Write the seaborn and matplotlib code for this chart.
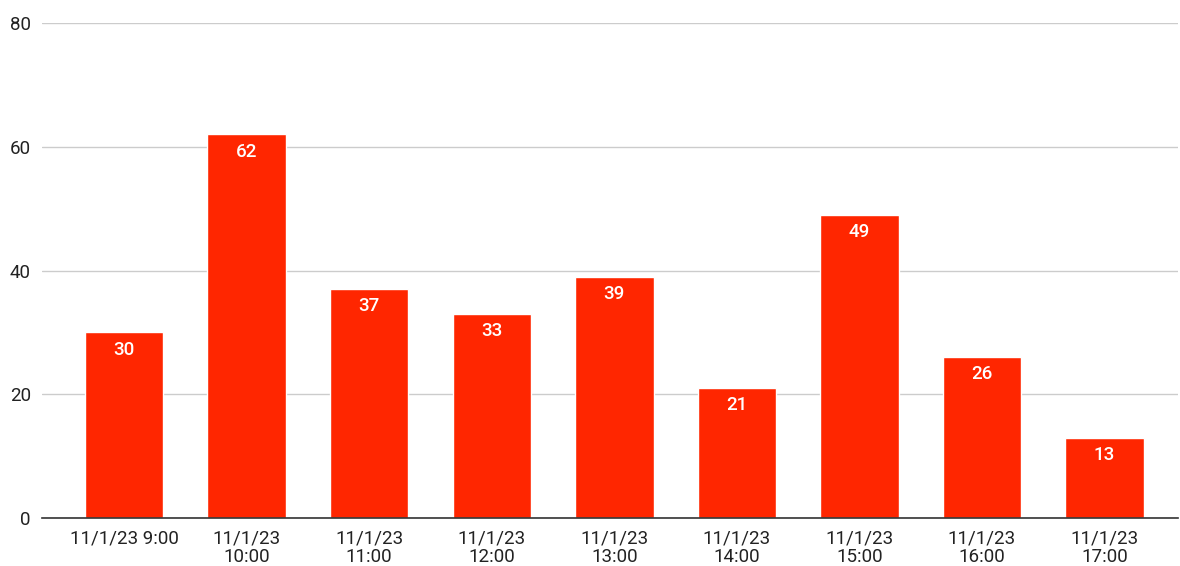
import matplotlib
matplotlib.use("Agg")
import matplotlib.pyplot as plt
import seaborn as sns
import pandas as pd

# chart data
times = ["11/1/23 9:00", "11/1/23\n10:00", "11/1/23\n11:00", "11/1/23\n12:00",
         "11/1/23\n13:00", "11/1/23\n14:00", "11/1/23\n15:00", "11/1/23\n16:00",
         "11/1/23\n17:00"]
counts = [30, 62, 37, 33, 39, 21, 49, 26, 13]
y_ticks = [0, 20, 40, 60, 80]

BAR_COLOR = "#FF2600"

sns.set_theme(style="white")
plt.rcParams["font.family"] = ["Roboto", "DejaVu Sans"]

df = pd.DataFrame({"time": times, "count": counts})

fig = plt.figure(figsize=(11.8, 5.66), dpi=100)
ax = fig.add_axes([42 / 1180, 1 - 518 / 566, 1136 / 1180, (518 - 23) / 566])

sns.barplot(data=df, x="time", y="count", color=BAR_COLOR, saturation=1,
            width=0.64, ax=ax, zorder=3)

for patch, val in zip(ax.patches, counts):
    x = patch.get_x() + patch.get_width() / 2
    ax.annotate(str(val), (x, val), xytext=(0, -12.5), textcoords="offset points",
                ha="center", va="center", color="white", fontsize=13.5,
                fontweight="medium", zorder=4)

ax.set_ylim(0, 80)
ax.set_xlim(-0.67, 8.60)
ax.set_yticks(y_ticks)
ax.grid(axis="y", color="#cccccc", linewidth=1, zorder=0)
ax.set_xlabel("")
ax.set_ylabel("")
ax.tick_params(axis="both", length=0, labelsize=13.5, colors="#222222")
ax.tick_params(axis="x", pad=8)
ax.tick_params(axis="y", pad=8)
for lab in ax.get_xticklabels():
    lab.set_linespacing(1.08)
    lab.set_verticalalignment("top")

for side in ["top", "right", "left"]:
    ax.spines[side].set_visible(False)
ax.spines["bottom"].set_color("#333333")
ax.spines["bottom"].set_linewidth(1.2)
ax.spines["bottom"].set_zorder(5)

plt.savefig("out.png", dpi=100)
plt.close()
